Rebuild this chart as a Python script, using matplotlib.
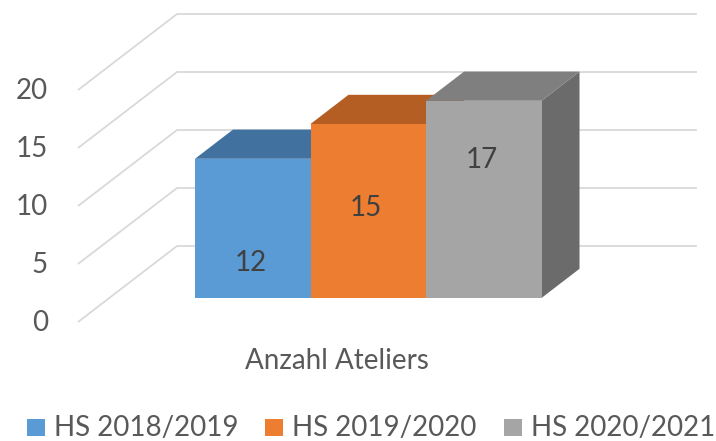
import matplotlib
matplotlib.use("Agg")
import matplotlib.pyplot as plt
from matplotlib.patches import Polygon, Rectangle

# ---------------- data ----------------
category = "Anzahl Ateliers"
series = ["HS 2018/2019", "HS 2019/2020", "HS 2020/2021"]
values = [12, 15, 17]
yticks = [0, 5, 10, 15, 20]

# ---------------- style ----------------
front_colors = ["#5B9BD5", "#ED7D31", "#A5A5A5"]
top_colors = ["#41729F", "#B45E24", "#7F7F7F"]
side_colors = ["#3E6A94", "#A65521", "#6B6B6B"]
label_frac = [0.25, 0.52, 0.70]
FONT = "Lato"
FS = 20
TXT = "#595959"
GRID = "#D9D9D9"

# projection (pixel space): value scale and oblique depth
PPU = 11.6            # pixels per value unit
FLOOR_X, FLOOR_Y = 78, 322   # front-left corner of floor at value 0
DX, DY = 99, 76        # full depth offset (right, up)
BACK_RIGHT = 697
BAR_D0, BAR_D1 = 0.316, 0.70  # bar front/back depth fraction
BAR_X0 = 195 - DX * BAR_D0   # front-plane x of first bar
BAR_W = 115.5


def proj(x, v, d):
    return (x + DX * d, FLOOR_Y - DY * d - v * PPU)


fig = plt.figure(figsize=(7.16, 4.41), dpi=100)
ax = fig.add_axes([0, 0, 1, 1])
ax.set_xlim(0, 716)
ax.set_ylim(441, 0)
ax.axis("off")

# gridlines: left wall diagonal + back wall horizontal
for v in yticks:
    x0, y0 = proj(FLOOR_X, v, 0)
    x1, y1 = proj(FLOOR_X, v, 1)
    ax.plot([x0, x1, BACK_RIGHT], [y0, y1, y1], color=GRID, lw=1.3,
            solid_capstyle="butt", zorder=1)
    ax.text(48, y0 + 1, str(v), ha="right", va="center", fontsize=FS,
            family=FONT, color=TXT)

# bars
for i, (val, fc, tc, sc) in enumerate(zip(values, front_colors, top_colors, side_colors)):
    xl = BAR_X0 + i * BAR_W
    xr = xl + BAR_W
    side = [proj(xr, 0, BAR_D0), proj(xr, 0, BAR_D1),
            proj(xr, val, BAR_D1), proj(xr, val, BAR_D0)]
    ax.add_patch(Polygon(side, closed=True, facecolor=sc, edgecolor="none", zorder=2 + i))
    top = [proj(xl, val, BAR_D0), proj(xl, val, BAR_D1),
           proj(xr, val, BAR_D1), proj(xr, val, BAR_D0)]
    ax.add_patch(Polygon(top, closed=True, facecolor=tc, edgecolor="none", zorder=2 + i))
    front = [proj(xl, 0, BAR_D0), proj(xl, val, BAR_D0),
             proj(xr, val, BAR_D0), proj(xr, 0, BAR_D0)]
    ax.add_patch(Polygon(front, closed=True, facecolor=fc, edgecolor="none", zorder=2 + i))
    cx = (front[0][0] + front[3][0]) / 2 - 2
    cy = FLOOR_Y - DY * BAR_D0 - val * PPU * label_frac[i]
    ax.text(cx, cy, str(val), ha="center", va="center", fontsize=FS,
            family=FONT, color="#404040", zorder=10)

# category label
cat_x = proj(BAR_X0 + 1.5 * BAR_W, 0, 0)[0]
ax.text(cat_x, 361, category, ha="center", va="center", fontsize=FS,
        family=FONT, color=TXT)

# legend
leg_x = [27, 265, 504]
for name, fc, lx in zip(series, front_colors, leg_x):
    ax.add_patch(Rectangle((lx, 419), 18, 17, facecolor=fc, edgecolor="none"))
    ax.text(lx + 27, 427.5, name, ha="left", va="center", fontsize=FS,
            family=FONT, color=TXT)

fig.savefig("out.png", dpi=100)
